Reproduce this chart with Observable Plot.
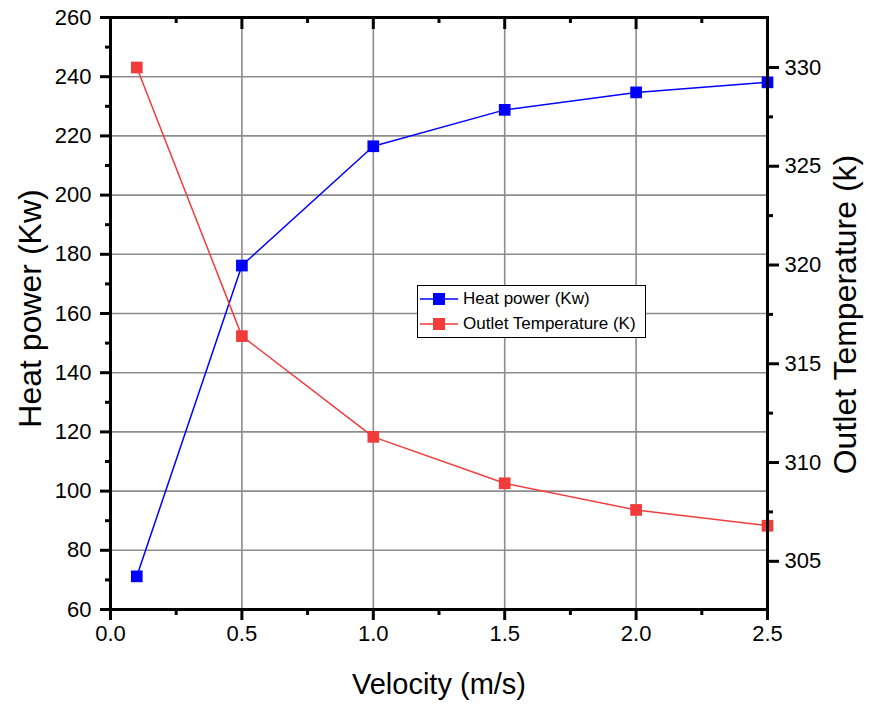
<!DOCTYPE html>
<html><head><meta charset="utf-8">
<script src="https://cdn.jsdelivr.net/npm/d3@7"></script>
<script src="https://cdn.jsdelivr.net/npm/@observablehq/plot@0.6"></script>
<style>
body{margin:0;background:#fff;}
#wrap{position:relative;width:871px;height:710px;font-family:"Liberation Sans",Arial,sans-serif;}
.legend{position:absolute;left:417px;top:285px;width:227px;height:51px;border:1.5px solid #000;background:#fff;font-size:17px;color:#000;}
.row{position:absolute;left:2px;height:22px;display:flex;align-items:center;white-space:nowrap;}
.row svg{margin-right:5px;}
</style></head><body><div id="wrap"></div>
<script>
const velocity = [0.1, 0.5, 1.0, 1.5, 2.0, 2.5];
const heatPower = [71.2, 176.2, 216.5, 228.8, 234.7, 238.1];
const outletTemp = [330.0, 316.4, 311.3, 308.95, 307.6, 306.8];
const xTicks = [0, 0.5, 1.0, 1.5, 2.0, 2.5];
const xMinor = [0.25, 0.75, 1.25, 1.75, 2.25];
const yTicks = [60, 80, 100, 120, 140, 160, 180, 200, 220, 240, 260];
const yMinor = [70, 90, 110, 130, 150, 170, 190, 210, 230, 250];
const tTicks = [305, 310, 315, 320, 325, 330];
const tMinor = [307.5, 312.5, 317.5, 322.5, 327.5];
const xDomain = [0, 2.5];
const yDomain = [60, 260];
const tDomain = [302.56, 332.53];
const seriesNames = ["Heat power (Kw)", "Outlet Temperature (K)"];
const seriesColors = ["#0000ff", "#f23c3c"];
const xLabel = "Velocity (m/s)";
const yLabel = "Heat power (Kw)";
const tLabel = "Outlet Temperature (k)";

const toY = d3.scaleLinear(tDomain, yDomain);
const rows = velocity.map((v, i) => ({v, heat: heatPower[i], tempY: toY(outletTemp[i])}));
const gridStyle = {stroke: "#8c8c8c", strokeOpacity: 1, strokeWidth: 1.6};
const blank = () => "";

const plot = Plot.plot({
  width: 871, height: 710,
  marginLeft: 110, marginRight: 104, marginTop: 17, marginBottom: 101,
  x: {domain: xDomain},
  y: {domain: yDomain},
  style: {fontFamily: "Liberation Sans, Arial, sans-serif", fontSize: "22px", color: "#000", background: "#fff", overflow: "visible"},
  marks: [
    Plot.gridX(xTicks.slice(1, -1), gridStyle),
    Plot.gridY(yTicks.slice(1, -1), gridStyle),
    Plot.line(rows, {x: "v", y: "heat", stroke: seriesColors[0], strokeWidth: 1.5}),
    Plot.dot(rows, {x: "v", y: "heat", symbol: "square", r: 6.6, fill: seriesColors[0], stroke: "none"}),
    Plot.line(rows, {x: "v", y: "tempY", stroke: seriesColors[1], strokeWidth: 1.5}),
    Plot.dot(rows, {x: "v", y: "tempY", symbol: "square", r: 6.6, fill: seriesColors[1], stroke: "none"}),
    Plot.frame({stroke: "#000", strokeWidth: 3}),
    Plot.axisX(xTicks, {anchor: "bottom", tickSize: 11, tickPadding: 5, strokeWidth: 3, tickFormat: d3.format(".1f"), label: null}),
    Plot.axisX(xMinor, {anchor: "bottom", tickSize: 6, strokeWidth: 3, tickFormat: blank, label: null}),
    Plot.axisY(yTicks, {anchor: "left", tickSize: 10, tickPadding: 9, strokeWidth: 3, label: null}),
    Plot.axisY(yMinor, {anchor: "left", tickSize: 5, strokeWidth: 3, tickFormat: blank, label: null}),
    Plot.axisY(tTicks.map(toY), {anchor: "right", tickSize: 11, tickPadding: 6, strokeWidth: 3, tickFormat: d => String(Math.round(toY.invert(d))), label: null}),
    Plot.axisY(tMinor.map(toY), {anchor: "right", tickSize: 5, strokeWidth: 3, tickFormat: blank, label: null}),
    Plot.ruleX(xTicks, {stroke: "#000", strokeWidth: 3, insetBottom: 580}),
    Plot.ruleX(xMinor, {stroke: "#000", strokeWidth: 3, insetBottom: 586}),
    Plot.text([xLabel], {text: d => d, frameAnchor: "bottom", textAnchor: "middle", dy: 84, fontSize: 29, fill: "#000"}),
    Plot.text([yLabel], {text: d => d, frameAnchor: "left", textAnchor: "middle", dx: -80, dy: -5, rotate: -90, fontSize: 32, fill: "#000"}),
    Plot.text([tLabel], {text: d => d, frameAnchor: "right", textAnchor: "middle", dx: 78, dy: 1, rotate: -90, fontSize: 32, fill: "#000"})
  ]
});
const wrap = document.getElementById("wrap");
wrap.appendChild(plot);

const legend = document.createElement("div");
legend.className = "legend";
seriesNames.forEach((name, i) => {
  const row = document.createElement("div");
  row.className = "row";
  row.style.top = (2 + i * 25) + "px";
  row.innerHTML = `<svg width="38" height="14"><line x1="0" y1="7" x2="38" y2="7" stroke="${seriesColors[i]}" stroke-width="1.5"/><rect x="13" y="1" width="12" height="12" fill="${seriesColors[i]}"/></svg><span>${name}</span>`;
  legend.appendChild(row);
});
wrap.appendChild(legend);
</script>
</body></html>
